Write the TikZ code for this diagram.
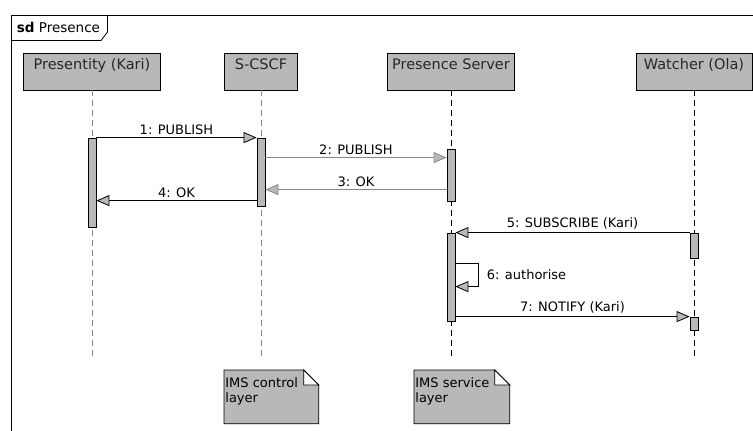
\documentclass[tikz,border=0pt]{standalone}
\usepackage{fontspec}
\setmainfont{DejaVu Sans}
\usetikzlibrary{arrows.meta, calc}
\definecolor{boxgray}{RGB}{184,184,184}
\definecolor{linegray}{RGB}{135,135,135}
\definecolor{txtgray}{RGB}{40,40,40}
\tikzstyle{head}=[draw, fill=boxgray, minimum height=37pt, inner sep=0pt]
\tikzstyle{headtext}=[anchor=base, inner sep=0pt, text=txtgray, font=\fontsize{14.5}{16}\selectfont]
\tikzstyle{life}=[dash pattern=on 6pt off 4pt, line width=0.7pt]
\tikzstyle{act}=[draw, fill=boxgray, minimum width=8pt, inner sep=0pt]
\tikzstyle{msg}=[-{Triangle[length=13pt, width=11pt, fill=boxgray]}]
\tikzstyle{lbl}=[above=2pt, inner sep=1pt, font=\fontsize{13}{15}\selectfont]
\tikzstyle{notetext}=[anchor=north west, inner sep=0pt, align=left, font=\fontsize{13}{15}\selectfont]

\begin{document}
\begin{tikzpicture}[x=1pt, y=-1pt, line width=0.8pt]
    \useasboundingbox (0,0) rectangle (753,431);
    \clip (0,0) rectangle (753,431);
    % frame
    \draw (11,440) -- (11,15) -- (760,15);
    \draw (11,40.5) -- (101,40.5) -- (107.5,32) -- (107.5,15);
    \node[anchor=base west, inner sep=0pt, font=\fontsize{13.5}{15}\selectfont] (sd) at (16.5,32) {\textbf{sd} Presence};

    % lifeline heads
    \node[head, minimum width=137pt] (pk) at (92,71.5) {};
    \node[head, minimum width=73pt] (sc) at (261,71.5) {};
    \node[head, minimum width=127pt] (ps) at (451,71.5) {};
    \node[head, minimum width=116pt] (wo) at (694,71.5) {};
    \node[headtext] (pkt) at ([yshift=-17pt]pk.north) {Presentity (Kari)};
    \node[headtext] (sct) at ([yshift=-17pt]sc.north) {S-CSCF};
    \node[headtext] (pst) at ([yshift=-17pt]ps.north) {Presence Server};
    \node[headtext] (wot) at ([yshift=-17pt]wo.north) {Watcher (Ola)};

    % lifelines
    \coordinate (pkend) at (92,360);
    \coordinate (scend) at (261,360);
    \coordinate (psend) at (451,360);
    \coordinate (woend) at (694,360);
    \draw[life, linegray] (pk.south) -- (pkend);
    \draw[life, linegray] (sc.south) -- (scend);
    \draw[life] (ps.south) -- (psend);
    \draw[life] (wo.south) -- (woend);

    % activations
    \node[act, minimum height=89pt] (aP) at (92,182.5) {};
    \node[act, minimum height=68pt] (aS) at (261,172) {};
    \node[act, minimum height=52pt] (aPS1) at (451,175) {};
    \node[act, minimum height=88pt] (aPS2) at (451,277) {};
    \node[act, minimum height=25pt] (aW1) at (694,245.5) {};
    \node[act, minimum height=13pt] (aW2) at (694,323.5) {};

    % messages
    \draw[msg] (aP.north east) -- (aS.north west) node[lbl, midway] (l1) {1: PUBLISH};
    \draw[msg, linegray] ([yshift=-20pt]aS.north east) -- ([yshift=-9pt]aPS1.north west) node[lbl, midway, text=black] (l2) {2: PUBLISH};
    \draw[msg, linegray] ([yshift=-41pt]aPS1.north west) -- ([yshift=-52pt]aS.north east) node[lbl, midway, text=black] (l3) {3: OK};
    \draw[msg] ([yshift=-63pt]aS.north west) -- ([yshift=-63pt]aP.north east) node[lbl, midway] (l4) {4: OK};
    \draw[msg] (aW1.north west) -- (aPS2.north east) node[lbl, midway] (l5) {5: SUBSCRIBE (Kari)};
    \draw[msg] ([yshift=-31pt]aPS2.north east) -- ++(23,0) -- ++(0,23) node[midway, right=8pt, inner sep=0pt, font=\fontsize{13}{15}\selectfont] (l6) {6: authorise} -- ([yshift=-54pt]aPS2.north east);
    \draw[msg] ([yshift=-84pt]aPS2.north east) -- (aW2.north west) node[lbl, midway] (l7) {7: NOTIFY (Kari)};

    % notes
    \node[minimum width=94pt, minimum height=53pt, inner sep=0pt, anchor=north west] (nc) at (224,370) {};
    \node[minimum width=95pt, minimum height=53pt, inner sep=0pt, anchor=north west] (ns) at (414,370) {};
    \foreach \n in {nc, ns} {
        \draw[fill=boxgray] (\n.north west) -- ([xshift=-15pt]\n.north east) -- ([yshift=-15pt]\n.north east) -- (\n.south east) -- (\n.south west) -- cycle;
        \draw[fill=white] ([xshift=-15pt]\n.north east) -- ([xshift=-15pt, yshift=-15pt]\n.north east) -- ([yshift=-15pt]\n.north east) -- cycle;
    }
    \node[notetext] (nct) at ([xshift=1pt, yshift=-7pt]nc.north west) {IMS control\\layer};
    \node[notetext] (nst) at ([xshift=1pt, yshift=-7pt]ns.north west) {IMS service\\layer};
\end{tikzpicture}
\end{document}
